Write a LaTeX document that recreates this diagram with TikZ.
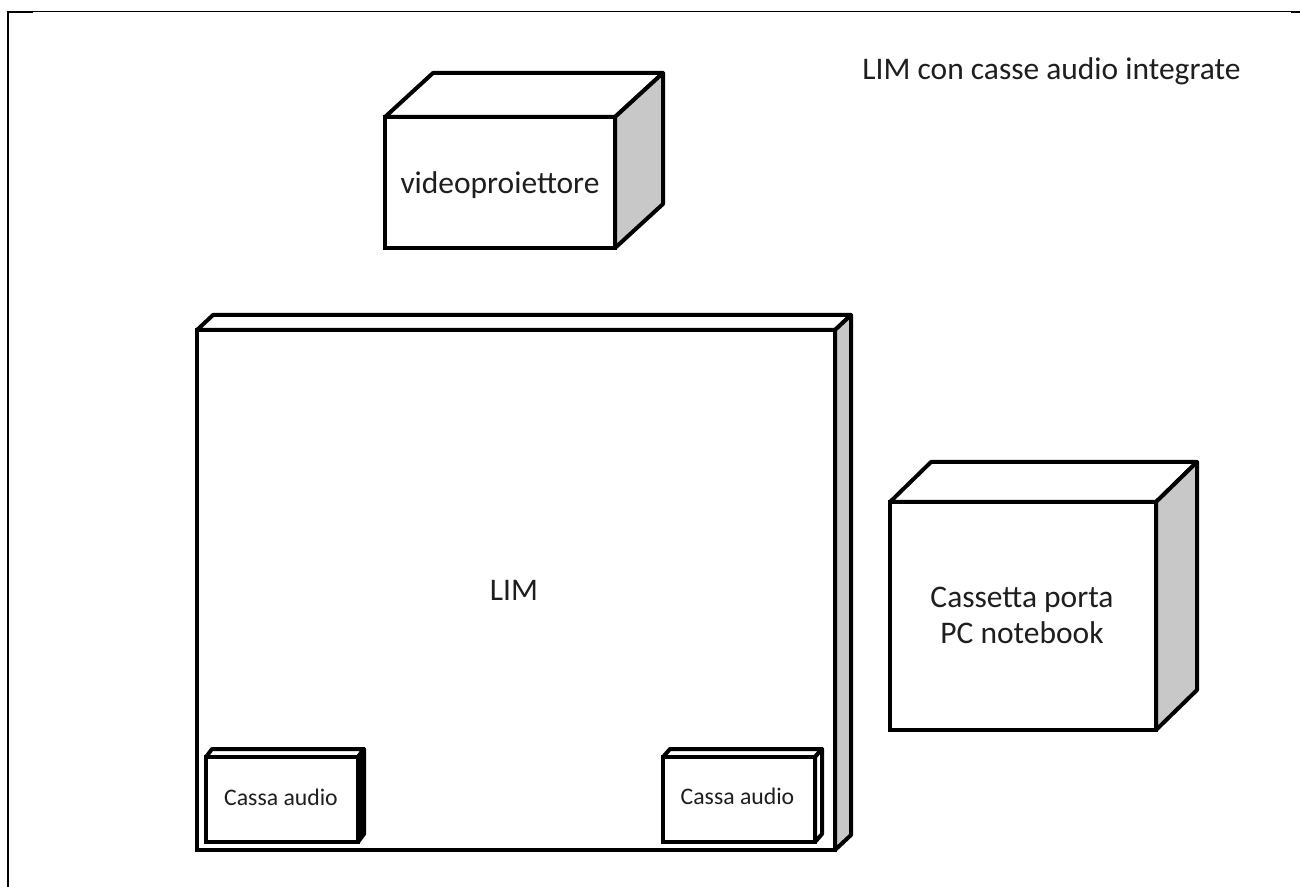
\documentclass[tikz,border=0pt]{standalone}
\usepackage{fontspec}
\setmainfont{Carlito}
\definecolor{sidegray}{RGB}{200,200,200}
\definecolor{inktext}{RGB}{30,30,30}
\tikzset{
  x=0.75pt,y=-0.75pt,
  edge/.style={draw=black,line width=3pt,line join=round,fill=white},
  frontedge/.style={draw=black,line width=3pt,line join=miter,fill=white},
  label/.style={inner sep=0pt,align=center,text=inktext,anchor=base,font=\fontsize{23.6}{27}\selectfont},
  small/.style={inner sep=0pt,text=inktext,anchor=base,font=\fontsize{17.8}{20}\selectfont},
}
% x0 y0 x1 y1 dx dy side-colour
\newcommand{\cuboid}[7]{%
  \path[edge] (#1,#2) -- ++(#5,-#6) -- (#3+#5,#2-#6) -- (#3,#2) -- cycle;
  \path[edge,fill=#7] (#3,#2) -- (#3+#5,#2-#6) -- (#3+#5,#4-#6) -- (#3,#4) -- cycle;
  \path[frontedge] (#1,#2) rectangle (#3,#4);
}
\begin{document}
\begin{tikzpicture}
\useasboundingbox (0,0) rectangle (1300,887);
\fill[white] (0,0) rectangle (1300,887);
% frame
\draw[line width=0.9pt] (8,11.5) -- (1300,11.5);
\draw[line width=1.5pt] (8,887) -- (8,12) -- (33,12);
\draw[line width=1.5pt] (1291,12) -- (1300,12);
\cuboid{385}{117}{615}{248}{48}{44}{sidegray}
\cuboid{197}{330}{835}{850}{16}{15}{sidegray}
\cuboid{890}{502}{1156}{730}{41}{40}{sidegray}
\cuboid{206}{757}{358}{842}{6}{8}{black}
\cuboid{663}{757}{815}{842}{7}{8}{white}
\node[label] (title) at (1051.5,80) {LIM con casse audio integrate};
\node[label] (video) at (500,194) {videoproiettore};
\node[label] (lim) at (514,600) {LIM};
\node[label,anchor=center] (cass) at (1022,615) {Cassetta porta\\PC notebook};
\node[small] (a1) at (281,805) {Cassa audio};
\node[small] (a2) at (737.5,804) {Cassa audio};
\end{tikzpicture}
\end{document}
